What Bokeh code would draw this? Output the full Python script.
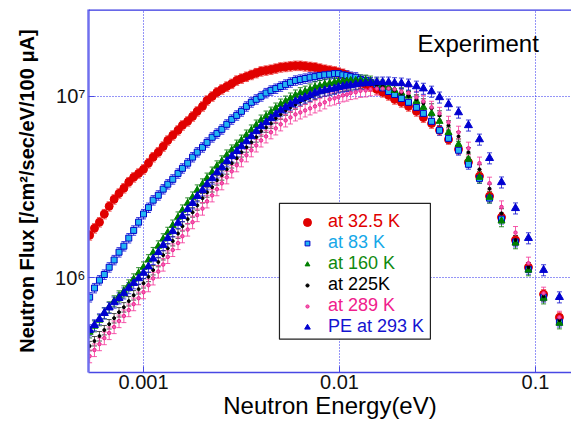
from bokeh.plotting import figure
from bokeh.models import (ColumnDataSource, Whisker, TeeHead, Legend, LegendItem,
                          FixedTicker, Label, BoxAnnotation, Range1d, Span,
                          CustomJSTickFormatter)
from bokeh.embed import file_html
from bokeh.resources import INLINE

# ---------------- data ----------------
# neutron energy in eV (shared grid)
energy = [
    0.000531, 0.000562, 0.000596, 0.000631, 0.000668, 0.000708, 0.000750, 0.000794, 0.000841, 0.000891,
    0.000944, 0.00100, 0.00106, 0.00112, 0.00119, 0.00126, 0.00133, 0.00141, 0.00150, 0.00158,
    0.00168, 0.00178, 0.00188, 0.00200, 0.00211, 0.00224, 0.00237, 0.00251, 0.00266, 0.00282,
    0.00299, 0.00316, 0.00335, 0.00355, 0.00376, 0.00398, 0.00422, 0.00447, 0.00473, 0.00501,
    0.00531, 0.00562, 0.00596, 0.00631, 0.00668, 0.00708, 0.00750, 0.00794, 0.00841, 0.00891,
    0.00943, 0.00988, 0.0104, 0.0109, 0.0114, 0.0121, 0.0128, 0.0136, 0.0144, 0.0155,
    0.0166, 0.0178, 0.0191, 0.0207, 0.0225, 0.0247, 0.0268, 0.0295, 0.0324, 0.0360,
    0.0405, 0.0455, 0.0518, 0.0583, 0.0671, 0.0791, 0.0921, 0.110, 0.1325,
]

# neutron flux in units of 1e6 /cm2/sec/eV/100 uA
flux_32_5K = [
    1.71, 1.87, 2.02, 2.24, 2.47, 2.70, 2.91, 3.11, 3.36, 3.57,
    3.75, 3.95, 4.27, 4.61, 4.91, 5.28, 5.70, 6.08, 6.48, 6.90,
    7.26, 7.73, 8.24, 8.78, 9.47, 9.96, 10.5, 10.9, 11.3, 11.7,
    12.2, 12.5, 12.8, 13.1, 13.4, 13.7, 13.85, 14.0, 14.2, 14.4,
    14.5, 14.6, 14.7, 14.7, 14.6, 14.5, 14.4, 14.2, 14.0, 13.85,
    13.7, 13.5, 13.3, 13.0, 12.7, 12.2, 11.9, 11.6, 11.3, 10.9,
    10.5, 10.1, 9.6, 9.24, 8.78, 8.24, 7.62, 7.07, 6.48, 5.77,
    5.09, 4.32, 3.62, 2.81, 2.15, 1.61, 1.14, 0.81, 0.604,
]
flux_83K = [
    0.78, 0.876, 0.968, 1.04, 1.14, 1.25, 1.38, 1.49, 1.65, 1.82,
    2.02, 2.24, 2.43, 2.67, 2.84, 3.07, 3.27, 3.48, 3.75, 4.00,
    4.27, 4.61, 4.91, 5.22, 5.56, 5.93, 6.23, 6.56, 6.99, 7.44,
    7.83, 8.24, 8.78, 9.24, 9.60, 9.97, 10.4, 10.75, 11.0, 11.3,
    11.6, 11.9, 12.2, 12.35, 12.5, 12.7, 12.8, 13.0, 13.1, 13.2,
    13.3, 13.3, 13.1, 13.0, 12.8, 12.7, 12.35, 12.2, 11.9, 11.6,
    11.1, 10.6, 10.2, 9.7, 9.24, 8.67, 8.03, 7.26, 6.48, 5.85,
    5.03, 4.21, 3.52, 2.74, 2.10, 1.57, 1.11, 0.78, 0.568,
]
flux_160K = [
    0.50, 0.54, 0.583, 0.637, 0.687, 0.742, 0.79, 0.842, 0.908, 0.98,
    1.06, 1.14, 1.25, 1.37, 1.49, 1.63, 1.77, 1.94, 2.15, 2.35,
    2.57, 2.77, 3.03, 3.27, 3.52, 3.80, 4.11, 4.38, 4.72, 5.03,
    5.35, 5.70, 6.08, 6.48, 6.90, 7.35, 7.73, 8.13, 8.56, 9.0,
    9.35, 9.72, 10.1, 10.4, 10.6, 10.9, 11.2, 11.4, 11.6, 11.75,
    11.9, 12.0, 12.05, 12.1, 12.2, 12.2, 12.2, 12.2, 12.05, 11.75,
    11.45, 11.2, 10.75, 10.4, 10.0, 9.35, 8.67, 8.03, 7.26, 6.3,
    5.42, 4.49, 3.57, 2.77, 2.05, 1.55, 1.10, 0.77, 0.561,
]
flux_225K = [
    0.42, 0.447, 0.476, 0.514, 0.554, 0.598, 0.645, 0.687, 0.742, 0.80,
    0.864, 0.932, 1.01, 1.10, 1.22, 1.33, 1.45, 1.59, 1.75, 1.92,
    2.10, 2.29, 2.50, 2.74, 2.95, 3.15, 3.44, 3.66, 3.95, 4.27,
    4.55, 4.91, 5.22, 5.56, 5.93, 6.40, 6.72, 7.07, 7.54, 7.93,
    8.34, 8.67, 9.0, 9.35, 9.6, 9.9, 10.2, 10.5, 10.6, 10.75,
    11.0, 11.2, 11.3, 11.45, 11.5, 11.6, 11.7, 11.6, 11.6, 11.45,
    11.3, 11.0, 10.75, 10.4, 10.0, 9.6, 9.12, 8.56, 7.83, 6.90,
    6.0, 4.91, 3.95, 3.09, 2.26, 1.61, 1.14, 0.79, 0.583,
]
flux_289K = [
    0.369, 0.399, 0.43, 0.464, 0.495, 0.534, 0.576, 0.614, 0.662, 0.714,
    0.77, 0.831, 0.908, 0.99, 1.08, 1.18, 1.30, 1.42, 1.55, 1.69,
    1.84, 2.02, 2.21, 2.40, 2.63, 2.84, 3.07, 3.31, 3.57, 3.85,
    4.16, 4.43, 4.72, 5.03, 5.35, 5.70, 6.0, 6.32, 6.64, 6.99,
    7.35, 7.63, 7.93, 8.13, 8.34, 8.56, 8.78, 9.0, 9.24, 9.6,
    9.72, 9.9, 10.1, 10.2, 10.4, 10.5, 10.7, 10.75, 10.9, 11.0,
    11.0, 11.0, 10.9, 10.6, 10.4, 9.84, 9.35, 8.67, 8.03, 7.17,
    6.32, 5.16, 4.27, 3.31, 2.45, 1.77, 1.20, 0.82, 0.604,
]
flux_PE_293K = [
    0.514, 0.547, 0.59, 0.637, 0.683, 0.73, 0.77, 0.82, 0.876, 0.932,
    0.99, 1.06, 1.15, 1.27, 1.38, 1.51, 1.65, 1.80, 2.0, 2.18,
    2.38, 2.57, 2.81, 3.03, 3.27, 3.52, 3.80, 4.05, 4.38, 4.66,
    4.97, 5.28, 5.63, 6.0, 6.40, 6.81, 7.17, 7.54, 7.93, 8.34,
    8.67, 9.0, 9.35, 9.6, 9.84, 10.1, 10.4, 10.6, 10.75, 10.9,
    11.0, 11.2, 11.3, 11.4, 11.45, 11.6, 11.7, 11.75, 11.8, 11.9,
    11.9, 11.9, 11.8, 11.75, 11.6, 11.3, 11.0, 10.6, 9.84, 9.0,
    8.13, 6.90, 5.77, 4.55, 3.35, 2.41, 1.65, 1.10, 0.78,
]

labels = ["at 32.5 K", "at 83 K", "at 160 K", "at 225K", "at 289 K", "PE at 293 K"]
rel_errors = [0.06, 0.06, 0.07, 0.06, 0.08, 0.07]
x_ticks = [0.001, 0.01, 0.1]
y_ticks = [1e6, 1e7]
FLUX_UNIT = 1e6

# ---------------- styles ----------------
styles = [
    dict(marker="circle", size=8, fill="#e00000", line="#e00000", err="#f03a3a", text="#e00000", lg=20),
    dict(marker="square", size=6, fill="#22b4f2", line="#0000c8", err="#1a1ad8", text="#16a8e8", lg=12),
    dict(marker="triangle", size=7, fill="#008000", line="#008000", err="#107a10", text="#0f8a0f", lg=12),
    dict(marker="circle", size=3, fill="#000000", line="#000000", err="#333333", text="#000000", lg=8),
    dict(marker="circle", size=3.5, fill="#f060b0", line="#f02090", err="#f43c9c", text="#f0208c", lg=8),
    dict(marker="triangle", size=8, fill="#0000d0", line="#0000d0", err="#1a1ad0", text="#1414d0", lg=14),
]

FONT = "Liberation Sans"
AX_BLUE = "#4848e4"
GRID_BLUE = "#2a2aee"
X_MIN, X_MAX = 0.000524, 0.1527
Y_MIN, Y_MAX = 3.0e5, 3.0e7

p = figure(width=571, height=421, x_axis_type="log", y_axis_type="log",
           x_range=Range1d(X_MIN, X_MAX), y_range=Range1d(Y_MIN, Y_MAX),
           output_backend="svg", toolbar_location=None,
           min_border_left=88, min_border_right=0, min_border_top=9, min_border_bottom=49)
p.outline_line_color = None
p.background_fill_color = "white"

# grid
for g in (p.xgrid, p.ygrid):
    g.grid_line_color = GRID_BLUE
    g.grid_line_dash = "1 2"
    g.grid_line_width = 1
    g.grid_line_alpha = 1.0
    g.minor_grid_line_color = None

p.xaxis.ticker = FixedTicker(ticks=x_ticks, minor_ticks=[])
p.yaxis.ticker = FixedTicker(ticks=y_ticks, minor_ticks=[])
p.xgrid.ticker = FixedTicker(ticks=x_ticks, minor_ticks=[])
p.ygrid.ticker = FixedTicker(ticks=y_ticks, minor_ticks=[])

p.xaxis.formatter = CustomJSTickFormatter(code="return tick.toString();")
p.yaxis.formatter = CustomJSTickFormatter(code="""
const sup = ["\u2070","\u00b9","\u00b2","\u00b3","\u2074","\u2075","\u2076","\u2077","\u2078","\u2079"];
const e = Math.round(Math.log10(tick));
let s = "";
for (const c of String(e)) { s += (c === "-") ? "\u207b" : sup[parseInt(c)]; }
return "10" + s;
""")

for ax in (p.xaxis[0], p.yaxis[0]):
    ax.major_tick_in = 6
    ax.major_tick_out = 0
    ax.minor_tick_in = 0
    ax.minor_tick_out = 0
    ax.major_label_text_font = FONT
    ax.major_label_text_font_size = "20px"
    ax.major_label_text_color = "#111111"
    ax.axis_label_text_font = FONT
    ax.axis_label_text_color = "#000000"
    ax.major_tick_line_color = AX_BLUE

p.xaxis.axis_line_color = AX_BLUE
p.xaxis.axis_line_width = 1.5
p.yaxis.axis_line_color = "#7070ee"
p.yaxis.axis_line_width = 2.5

p.xaxis.axis_label = "Neutron Energy(eV)"
p.xaxis.axis_label_text_font_size = "24px"
p.xaxis.axis_label_text_font_style = "normal"
p.xaxis.axis_label_standoff = 0
p.xaxis.major_label_standoff = 2

p.yaxis.axis_label = "Neutron Flux [/cm\u00b2/sec/eV/100 \u03bcA]"
p.yaxis.axis_label_text_font_size = "20px"
p.yaxis.axis_label_text_font_style = "bold"
p.yaxis.axis_label_standoff = 14
p.yaxis.major_label_standoff = 3

# top frame line
p.add_layout(Span(location=Y_MAX, dimension="width", line_color="#3434e0", line_width=2.5))

# ---------------- series ----------------
all_flux = [flux_32_5K, flux_83K, flux_160K, flux_225K, flux_289K, flux_PE_293K]
renderers = []
for flux, rel, st in zip(all_flux, rel_errors, styles):
    yv = [f * FLUX_UNIT for f in flux]
    src = ColumnDataSource(dict(
        x=energy, y=yv,
        upper=[v * (1 + rel) for v in yv],
        lower=[v * (1 - rel) for v in yv],
    ))
    w = Whisker(source=src, base="x", upper="upper", lower="lower", dimension="height",
                line_color=st["err"], line_width=1, line_alpha=0.85,
                upper_head=TeeHead(size=5, line_color=st["err"], line_width=1, line_alpha=0.85),
                lower_head=TeeHead(size=5, line_color=st["err"], line_width=1, line_alpha=0.85))
    p.add_layout(w)
    r = p.scatter("x", "y", source=src, marker=st["marker"], size=st["size"],
                  fill_color=st["fill"], line_color=st["line"], line_width=1)
    renderers.append(r)

# "Experiment" annotation
p.add_layout(Label(x=0.025, y=1.95e7, text="Experiment", text_font=FONT,
                   text_font_size="24px", text_color="#000000",
                   text_align="left", text_baseline="alphabetic"))

# legend box
p.add_layout(BoxAnnotation(left=0.00494, right=0.0291, bottom=4.58e5, top=2.567e6,
                           fill_color="white", fill_alpha=1.0,
                           line_color="#222222", line_width=1.2, line_alpha=1.0))

legend_y = [140, 119, 98, 77, 56, 35]
for lab, r, st, ly in zip(labels, renderers, styles, legend_y):
    gw = int(st["lg"])
    half = gw // 2
    leg = Legend(items=[LegendItem(label=lab, renderers=[r])],
                 location=(219 - half, ly),
                 label_text_font=FONT, label_text_font_size="18px",
                 label_text_color=st["text"], label_standoff=int(21 - half),
                 glyph_width=gw, glyph_height=gw, label_height=20,
                 padding=0, margin=0, spacing=0,
                 border_line_alpha=0, background_fill_alpha=0)
    p.add_layout(leg)

open("out.html", "w").write(file_html(p, INLINE))
